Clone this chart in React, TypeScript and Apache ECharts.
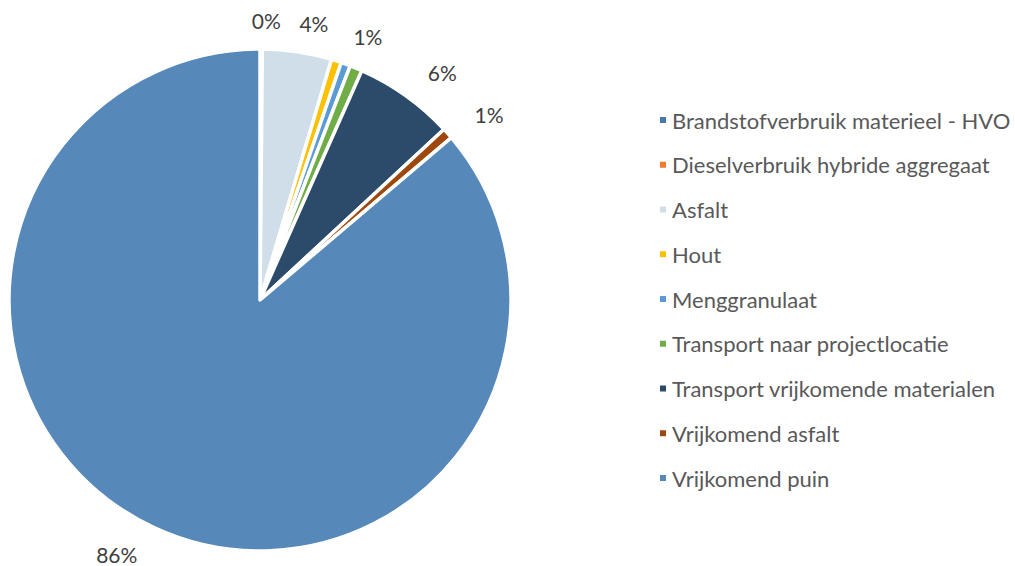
import React, { useEffect, useRef } from "react";
import * as echarts from "echarts";

const categories = [
  "Brandstofverbruik materieel - HVO",
  "Dieselverbruik hybride aggregaat",
  "Asfalt",
  "Hout",
  "Menggranulaat",
  "Transport naar projectlocatie",
  "Transport vrijkomende materialen",
  "Vrijkomend asfalt",
  "Vrijkomend puin",
];
const values = [0.15, 0, 4.45, 0.65, 0.6, 0.8, 6.45, 0.7, 86.2];
const colors = [
  "#4A78AA",
  "#ED7D31",
  "#D0DEEA",
  "#FFC000",
  "#5B9BD5",
  "#70AD47",
  "#2C4A6A",
  "#9E480E",
  "#5689BA",
];
const showLabel = [true, false, true, false, true, false, true, true, true];

export default function App() {
  const ref = useRef<HTMLDivElement>(null);
  useEffect(() => {
    if (!ref.current) return;
    const chart = echarts.init(ref.current, null, { renderer: "svg" });
    chart.setOption({
      animation: false,
      backgroundColor: "#ffffff",
      textStyle: { fontFamily: "Lato" },
      legend: {
        orient: "vertical",
        left: 653,
        top: 102,
        icon: "rect",
        itemWidth: 8,
        itemHeight: 8,
        itemGap: 18.75,
        selectedMode: false,
        textStyle: {
          fontFamily: "Lato",
          fontSize: 22,
          color: "#595959",
          lineHeight: 26,
        },
        data: categories,
      },
      series: [
        {
          type: "pie",
          center: [260, 300],
          radius: 251,
          startAngle: 90,
          clockwise: true,
          avoidLabelOverlap: false,
          itemStyle: { borderColor: "#ffffff", borderWidth: 3.5 },
          label: {
            position: "outside",
            fontFamily: "Lato",
            fontSize: 21,
            color: "#404040",
            formatter: (p: any) => Math.round(p.percent) + "%",
          },
          labelLine: { show: false, length: 29, length2: 0 },
          labelLayout: (p: any) => {
            if (p.dataIndex === 0) return { dx: -p.labelRect.width / 2 };
            if (p.dataIndex === 2 || p.dataIndex === 4)
              return { dx: -p.labelRect.width / 4 };
            return {};
          },
          emphasis: { disabled: true },
          data: categories.map((name, i) => ({
            name,
            value: values[i],
            itemStyle: { color: colors[i] },
            label: { show: showLabel[i] },
          })),
        },
      ],
    });
    return () => chart.dispose();
  }, []);
  return (
    <div
      ref={ref}
      style={{ position: "fixed", left: 0, top: 0, width: 1015, height: 566 }}
    />
  );
}
